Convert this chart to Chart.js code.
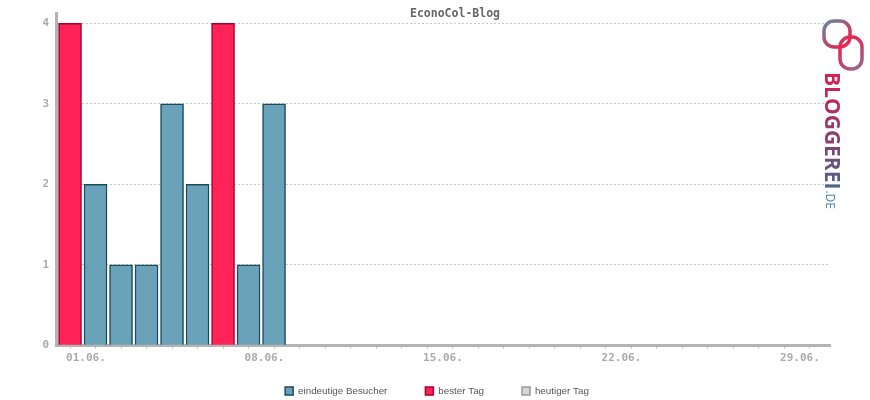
<!DOCTYPE html>
<html>
<head>
<meta charset="utf-8">
<script src="https://cdn.jsdelivr.net/npm/chart.js@4"></script>
<style>
  html, body { margin: 0; padding: 0; background: #fff; }
  #wrap { width: 870px; height: 400px; }
</style>
</head>
<body>
<div id="wrap"><canvas id="visitorChart"></canvas></div>
<script>
// data (June, days 1..30)
const days = Array.from({ length: 30 }, (_, i) => i + 1);
const uniqueVisitors = [null, 2, 1, 1, 3, 2, null, 1, 3];   // eindeutige Besucher
const bestDay = [4, null, null, null, null, null, 4, null, null]; // bester Tag
const today = [];                                            // heutiger Tag
const labelDays = [1, 8, 15, 22, 29];
const yTicks = [0, 1, 2, 3, 4];

function toPoints(values) {
    const pts = [];
    values.forEach((v, i) => { if (v !== null) pts.push({ x: days[i], y: v }); });
    return pts;
}

// logo on the right side, drawn on the canvas
const logoPlugin = {
    id: 'logo',
    afterDraw(chart) {
        const ctx = chart.ctx;
        ctx.save();
        let g = ctx.createLinearGradient(822, 20, 864, 70);
        g.addColorStop(0, '#5a8fb0');
        g.addColorStop(0.5, '#e8274f');
        g.addColorStop(1, '#8a6f9a');
        ctx.lineWidth = 3.5;
        ctx.strokeStyle = g;
        ctx.beginPath();
        ctx.roundRect(824, 21, 26, 26, 10);
        ctx.stroke();
        ctx.beginPath();
        ctx.roundRect(840, 37, 22, 32, 10);
        ctx.stroke();

        ctx.translate(831, 72);
        ctx.rotate(Math.PI / 2);
        const tg = ctx.createLinearGradient(0, 0, 120, 0);
        tg.addColorStop(0, '#d9214f');
        tg.addColorStop(0.55, '#8b3f70');
        tg.addColorStop(1, '#46698c');
        ctx.fillStyle = tg;
        ctx.font = 'bold 21px "Open Sans", "DejaVu Sans", sans-serif';
        ctx.textBaseline = 'middle';
        ctx.fillText('BLOGGEREI', 0, 0);
        const w = ctx.measureText('BLOGGEREI').width;
        ctx.fillStyle = '#4f86ad';
        ctx.font = '12px "Open Sans", "DejaVu Sans", sans-serif';
        ctx.fillText('.DE', w + 1, 2);
        ctx.restore();
    }
};

// legend sits a bit higher and left of where chart.js puts it
const legendShift = {
    id: 'legendShift',
    afterLayout(chart) {
        const lg = chart.legend;
        lg.top -= 17;
        lg.bottom -= 17;
        lg.left -= 18;
        lg.right -= 18;
    }
};

const monoFont = { family: '"DejaVu Sans Mono", monospace', size: 11, weight: 'bold' };

const ctx = document.getElementById('visitorChart').getContext('2d');
const visitorChart = new Chart(ctx, {
    type: 'bar',
    data: {
        datasets: [
            {
                label: 'eindeutige Besucher',
                data: toPoints(uniqueVisitors),
                backgroundColor: '#6aa3b9',
                borderColor: '#1b4a5e',
                borderWidth: 1.5
            },
            {
                label: 'bester Tag',
                data: toPoints(bestDay),
                backgroundColor: '#ff2358',
                borderColor: '#a8002e',
                borderWidth: 1.5
            },
            {
                label: 'heutiger Tag',
                data: today,
                backgroundColor: '#d6d6d6',
                borderColor: '#9a9a9a',
                borderWidth: 1.5
            }
        ]
    },
    plugins: [logoPlugin, legendShift],
    options: {
        responsive: true,
        maintainAspectRatio: false,
        animation: false,
        grouped: false,
        barThickness: 23,
        layout: { padding: { left: 40, right: 0, top: 0, bottom: -23 } },
        plugins: {
            tooltip: { enabled: false },
            title: {
                display: true,
                text: 'EconoCol-Blog',
                color: '#666',
                font: { family: '"DejaVu Sans Mono", monospace', size: 11.5, weight: 'bold' },
                padding: { top: 6, bottom: -7 }
            },
            legend: {
                position: 'bottom',
                labels: {
                    boxWidth: 8,
                    boxHeight: 8,
                    padding: 38,
                    color: '#555',
                    font: { family: '"Liberation Sans", Arial, sans-serif', size: 9.8 }
                }
            }
        },
        scales: {
            x: {
                type: 'linear',
                min: 0.45,
                max: 30.8,
                offset: false,
                border: { color: '#b4b4b4', width: 3 },
                grid: {
                    offset: false,
                    drawOnChartArea: false,
                    color: '#b4b4b4',
                    tickLength: 3
                },
                afterBuildTicks: function(scale) {
                    scale.ticks = days.map(d => ({ value: d }));
                },
                ticks: {
                    autoSkip: false,
                    maxRotation: 0,
                    align: 'start',
                    labelOffset: -4,
                    padding: 3,
                    color: '#aaa',
                    font: monoFont,
                    callback: function(value) {
                        return labelDays.includes(value) ? String(value).padStart(2, '0') + '.06.' : '';
                    }
                },
                afterFit: function(scale) { scale.height = 20; }
            },
            y: {
                min: 0,
                max: 4.12,
                border: { color: '#b4b4b4', width: 3, dash: [2, 2] },
                grid: {
                    color: '#c8c8c8',
                    drawTicks: false
                },
                afterBuildTicks: function(scale) {
                    scale.ticks = yTicks.map(v => ({ value: v }));
                },
                ticks: {
                    padding: 7,
                    color: '#aaa',
                    font: monoFont
                },
                afterFit: function(scale) { scale.width = 16; }
            },
            y2: {
                position: 'right',
                display: true,
                grid: { display: false },
                border: { display: false },
                ticks: { display: false },
                afterFit: function(scale) { scale.width = 40; }
            }
        }
    },
});
</script>
</body>
</html>
